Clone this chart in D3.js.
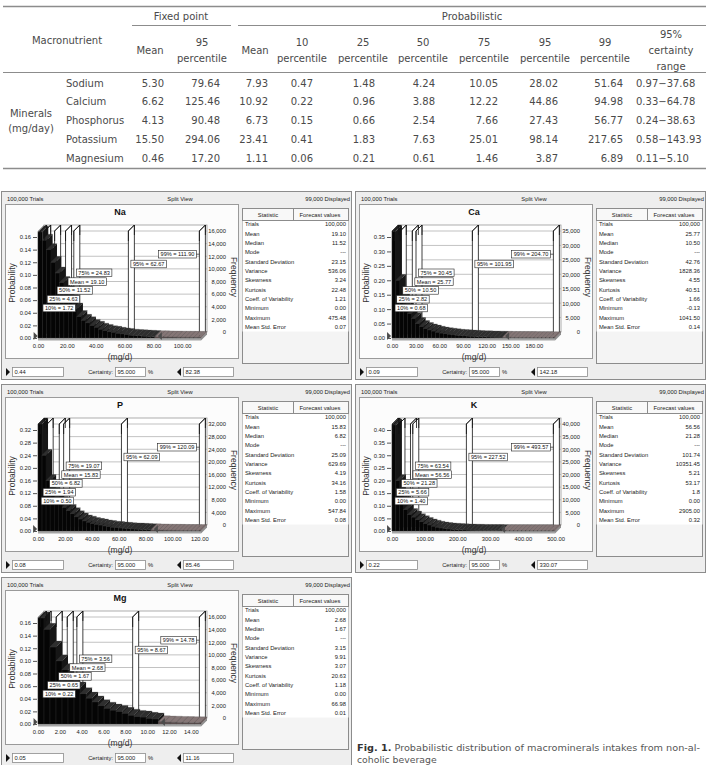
<!DOCTYPE html>
<html><head><meta charset="utf-8">
<script src="https://cdn.jsdelivr.net/npm/d3@7/dist/d3.min.js"></script>
<style>html,body{margin:0;padding:0;background:#fff;} svg{display:block;}</style>
</head><body>
<svg id="chart" width="708" height="765"></svg>
<script>
// ===== Table data =====
const nutrients = ["Sodium","Calcium","Phosphorus","Potassium","Magnesium"];
const fixedMean = [5.30,6.62,4.13,15.50,0.46];
const fixedP95  = [79.64,125.46,90.48,294.06,17.20];
const probMean  = [7.93,10.92,6.73,23.41,1.11];
const probP10   = [0.47,0.22,0.15,0.41,0.06];
const probP25   = [1.48,0.96,0.66,1.83,0.21];
const probP50   = [4.24,3.88,2.54,7.63,0.61];
const probP75   = [10.05,12.22,7.66,25.01,1.46];
const probP95   = [28.02,44.86,27.43,98.14,3.87];
const probP99   = [51.64,94.98,56.77,217.65,6.89];
const rangeLow  = [0.97,0.33,0.24,0.58,0.11];
const rangeHigh = [37.68,64.78,38.63,143.93,5.10];
const tableHeaders = [["Mean"],["95","percentile"],["Mean"],["10","percentile"],["25","percentile"],["50","percentile"],["75","percentile"],["95","percentile"],["99","percentile"],["95%","certainty","range"]];

// ===== Forecast chart data =====
const chartNames = ["Na","Ca","P","K","Mg"];
const binWidths  = [3,5,3,12,0.55];
const naProb = [0.168,0.155,0.14,0.12,0.103,0.088,0.073,0.06,0.046,0.034,0.028,0.024,0.020,0.017,0.014,0.012,0.010,0.009,0.0075,0.0065,0.0055,0.0045,0.004,0.0035,0.003,0.0027,0.0024,0.0021,0.0019,0.0017,0.0015,0.0014,0.0013,0.0012,0.0011,0.001,0.001,0.0009];
const caProb = [0.37,0.2,0.14,0.11,0.085,0.068,0.05,0.04,0.033,0.028,0.024,0.02,0.017,0.015,0.013,0.011,0.0095,0.0085,0.0075,0.0065,0.0058,0.005,0.0045,0.004,0.0036,0.0032,0.0029,0.0026,0.0023,0.002,0.0018,0.0016,0.0015,0.0014,0.0013,0.0012,0.0011,0.001,0.001,0.0009,0.0009,0.0008];
const pProb  = [0.34,0.24,0.16,0.12,0.105,0.09,0.075,0.065,0.055,0.045,0.038,0.032,0.028,0.024,0.021,0.019,0.016,0.014,0.012,0.011,0.0095,0.0085,0.0075,0.0065,0.006,0.0053,0.0047,0.0042,0.0037,0.0033,0.003,0.0027,0.0024,0.0022,0.002,0.0018,0.0016,0.0015,0.0014,0.0013,0.0012];
const kProb  = [0.42,0.2,0.12,0.085,0.065,0.055,0.045,0.037,0.03,0.024,0.019,0.015,0.012,0.0095,0.008,0.0068,0.0058,0.005,0.0043,0.0037,0.0032,0.0028,0.0024,0.0021,0.0019,0.0017,0.0015,0.0014,0.0013,0.0012,0.0011,0.001,0.001,0.0009,0.0009,0.0008,0.0008,0.0007,0.0007,0.0007,0.0006,0.0006];
const mgProb = [0.168,0.15,0.122,0.1,0.086,0.071,0.057,0.048,0.041,0.035,0.029,0.025,0.022,0.020,0.017,0.014,0.012,0.011,0.009,0.008,0.0035,0.003,0.0028,0.0025,0.0022,0.002,0.0018,0.0016];
const chartProbs = [naProb,caProb,pProb,kProb,mgProb];

const naYTicks = [0,0.02,0.04,0.06,0.08,0.10,0.12,0.14,0.16];
const caYTicks = [0,0.05,0.10,0.15,0.20,0.25,0.30,0.35];
const pYTicks  = [0,0.04,0.08,0.12,0.16,0.20,0.24,0.28,0.32];
const kYTicks  = [0,0.05,0.10,0.15,0.20,0.25,0.30,0.35,0.40];
const mgYTicks = [0,0.02,0.04,0.06,0.08,0.10,0.12,0.14,0.16];
const chartYTicks = [naYTicks,caYTicks,pYTicks,kYTicks,mgYTicks];

const naXTicks = [0,20,40,60,80,100];
const caXTicks = [0,30,60,90,120,150,180];
const pXTicks  = [0,20,40,60,80,100,120];
const kXTicks  = [0,100,200,300,400,500];
const mgXTicks = [0,2,4,6,8,10,12,14];
const chartXTicks = [naXTicks,caXTicks,pXTicks,kXTicks,mgXTicks];

const markerNames = ["10%","25%","50%","Mean","75%","95%","99%"];
const naMarkers = [1.72,4.63,11.52,19.10,24.83,62.67,111.90];
const caMarkers = [0.68,2.82,10.50,25.77,30.45,101.95,204.70];
const pMarkers  = [0.50,1.94,6.82,15.83,19.07,62.09,120.09];
const kMarkers  = [1.40,5.66,21.28,56.56,63.54,227.52,493.57];
const mgMarkers = [0.22,0.65,1.67,2.68,3.56,8.67,14.78];
const chartMarkers = [naMarkers,caMarkers,pMarkers,kMarkers,mgMarkers];

const statNames = ["Trials","Mean","Median","Mode","Standard Deviation","Variance","Skewness","Kurtosis","Coeff. of Variability","Minimum","Maximum","Mean Std. Error"];
const naStats = ["100,000","19.10","11.52","---","23.15","536.06","3.24","22.48","1.21","0.00","475.48","0.07"];
const caStats = ["100,000","25.77","10.50","---","42.76","1828.36","4.55","40.51","1.66","-0.13","1041.50","0.14"];
const pStats  = ["100,000","15.83","6.82","---","25.09","629.69","4.19","34.16","1.58","0.00","547.84","0.08"];
const kStats  = ["100,000","56.56","21.28","---","101.74","10351.45","5.21","53.17","1.8","0.00","2905.00","0.32"];
const mgStats = ["100,000","2.68","1.67","---","3.15","9.91","3.07","20.63","1.18","0.00","66.98","0.01"];
const chartStats = [naStats,caStats,pStats,kStats,mgStats];

const certLow  = ["0.44","0.09","0.08","0.22","0.05"];
const certHigh = ["82.38","142.18","85.46","330.07","11.16"];
const certaintyPct = "95.000";

// ===== Layout =====
const svg = d3.select("#chart");
const TF = "DejaVu Sans, sans-serif";
const SF = "Liberation Sans, Arial, sans-serif";
const txtCol = "#4a4a4a";

// ---- table ----
const tg = svg.append("g");
function hline(x1,x2,y,w){ tg.append("line").attr("x1",x1).attr("x2",x2).attr("y1",y).attr("y2",y).attr("stroke","#8c8c8c").attr("stroke-width",w); }
hline(3,706,6.5,1.6); hline(132,231,25.5,1); hline(238,706,25.5,1); hline(3,706,72.5,1.2); hline(3,706,168.5,1.6);
function ttext(x,yc,s,anchor){ return tg.append("text").attr("x",x).attr("y",yc+3.6).attr("text-anchor",anchor||"middle")
  .attr("font-family",TF).attr("font-size",10).attr("fill",txtCol).text(s); }
ttext(181,16,"Fixed point"); ttext(472,16,"Probabilistic"); ttext(67,40,"Macronutrient");
const colCenters = [150,202,255,302,363,423,484,545,605,671];
tableHeaders.forEach((h,j)=>{
  const ys = h.length===1?[50]:h.length===2?[42,58]:[34,50,66];
  h.forEach((s,k)=>ttext(colCenters[j],ys[k],s));
});
const rowY = [83,101,120,139,158];
const colRight = [164,220,268,313,375,435,498,558,623];
const cols = [fixedMean,fixedP95,probMean,probP10,probP25,probP50,probP75,probP95,probP99];
ttext(31,113,"Minerals"); ttext(31,128,"(mg/day)");
nutrients.forEach((n,r)=>{
  ttext(66,rowY[r],n,"start");
  cols.forEach((c,j)=>ttext(colRight[j],rowY[r],c[r].toFixed(2),"end"));
  ttext(636,rowY[r],rangeLow[r].toFixed(2)+"\u2212"+rangeHigh[r].toFixed(2),"start");
});

// ---- forecast panels ----
const panelPos = [[0,191],[354,191],[0,384],[354,384],[0,577]];
const f2 = d3.format(".2f");

function drawPanel(i){
  const [L,T] = panelPos[i];
  const g = svg.append("g").attr("transform",`translate(${L},${T})`);
  g.append("rect").attr("x",1.5).attr("y",0.5).attr("width",350).attr("height",188).attr("fill","#eeeeee").attr("stroke","#8c8c8c");
  const st = (x,y,s,anchor,size,weight,fill)=>g.append("text").attr("x",x).attr("y",y).attr("text-anchor",anchor||"start")
     .attr("font-family",SF).attr("font-size",size||5.8).attr("font-weight",weight||"normal").attr("fill",fill||"#222").text(s);
  st(7,9.5,"100,000 Trials"); st(180,9.5,"Split View","middle"); st(350,9.5,"99,000 Displayed","end");
  // chart frame
  g.append("rect").attr("x",5.5).attr("y",13.5).attr("width",233).attr("height",154).attr("fill","#fcfcfc").attr("stroke","#9a9a9a");
  st(120,24,chartNames[i],"middle",9,"bold","#111");

  const x0=38, x1=201, dx=6, dy=6, floorF=147, topF=40;
  const p99 = chartMarkers[i][6];
  const dom = p99*1.01;
  const xs = d3.scaleLinear().domain([0,dom]).range([x0,x1]);
  const yt = chartYTicks[i];
  const yMax = yt[yt.length-1]*(floorF-topF)/(floorF-46);
  const ysc = d3.scaleLinear().domain([0,yMax]).range([floorF,topF]);

  // left wall, back wall, floor
  g.append("polygon").attr("points",[[x0,floorF],[x0,topF],[x0+dx,topF-dy],[x0+dx,floorF-dy]].join(" "))
    .attr("fill","#dcdcdc").attr("stroke","#9a9a9a").attr("stroke-width",0.7);
  g.append("rect").attr("x",x0+dx).attr("y",topF-dy).attr("width",x1-x0).attr("height",floorF-topF)
    .attr("fill","#ffffff").attr("stroke","#9a9a9a").attr("stroke-width",0.8);
  yt.forEach(v=>{
    const y=ysc(v);
    g.append("line").attr("x1",x0+dx).attr("x2",x1+dx).attr("y1",y-dy).attr("y2",y-dy).attr("stroke","#a8a8a8").attr("stroke-width",0.7);
    g.append("line").attr("x1",x0).attr("x2",x0+dx).attr("y1",y).attr("y2",y-dy).attr("stroke","#a8a8a8").attr("stroke-width",0.7);
  });
  g.append("polygon").attr("points",[[x0,floorF],[x1,floorF],[x1+dx,floorF-dy],[x0+dx,floorF-dy]].join(" "))
    .attr("fill","#c8c8c8");
  g.append("rect").attr("x",x0).attr("y",floorF).attr("width",x1-x0).attr("height",2.5).attr("fill","#a4a4a4");
  g.append("polygon").attr("points",[[x1,floorF],[x1+dx,floorF-dy],[x1+dx,floorF-dy+2.5],[x1,floorF+2.5]].join(" ")).attr("fill","#8e8e8e");

  // markers (planes)
  const marks = chartMarkers[i];
  marks.forEach(m=>{
    const xm = xs(m);
    g.append("polygon").attr("points",[[xm,floorF],[xm,topF],[xm+dx,topF-dy],[xm+dx,floorF-dy]].join(" "))
      .attr("fill","#ffffff").attr("stroke","#111").attr("stroke-width",0.8);
  });

  // histogram bars (3D)
  const lo = +certLow[i], hi = +certHigh[i];
  const bw = binWidths[i];
  chartProbs[i].forEach((v,k)=>{
    const a=k*bw; if(a>=dom) return;
    const b=Math.min((k+1)*bw,dom);
    const xa=xs(a), xb=xs(b), yv=ysc(Math.min(v,yMax));
    const mid=(a+b)/2, out = mid>hi || mid<lo;
    const cf = out?"#5e4f4f":"#050505", ct = out?"#857676":"#2e2e2e", cs = out?"#6d5d5d":"#161616";
    g.append("rect").attr("x",xa).attr("y",yv).attr("width",xb-xa).attr("height",floorF-yv).attr("fill",cf).attr("stroke","#3c3c3c").attr("stroke-width",0.3);
    g.append("polygon").attr("points",[[xa,yv],[xb,yv],[xb+dx,yv-dy],[xa+dx,yv-dy]].join(" ")).attr("fill",ct).attr("stroke","#444").attr("stroke-width",0.25);
    g.append("polygon").attr("points",[[xb,yv],[xb+dx,yv-dy],[xb+dx,floorF-dy],[xb,floorF]].join(" ")).attr("fill",cs);
  });

  // marker tops drawn again above bars where visible
  marks.forEach(m=>{
    const xm = xs(m);
    g.append("path").attr("d",`M${xm},${topF+10}V${topF}L${xm+dx},${topF-dy}V${topF-dy+10}`)
      .attr("fill","none").attr("stroke","#111").attr("stroke-width",0.8);
  });

  // certainty grabbers
  const xl = xs(lo), xr = xs(hi);
  g.append("polygon").attr("points",[[xl-5,floorF-6],[xl-5,floorF+2],[xl-1,floorF-2]].join(" ")).attr("fill","#4a4a4a");
  g.append("polygon").attr("points",[[xr+5,floorF-6],[xr+5,floorF+2],[xr+1,floorF-2]].join(" ")).attr("fill","#4a4a4a");

  // marker labels
  marks.forEach((m,k)=>{
    const xm = xs(m);
    const yc = floorF-30-k*8.8 - (k===6?1:0);
    const t = g.append("text").attr("font-family",SF).attr("font-size",5.6).attr("fill","#111")
      .attr("y",yc+2).text(markerNames[k]+" = "+f2(m));
    const w = t.node().getComputedTextLength()+4;
    let bx = k===6 ? xm-3-w : xm+2.5;
    t.attr("x",bx+2);
    g.insert("rect",()=>t.node()).attr("x",bx).attr("y",yc-3.8).attr("width",w).attr("height",7.6)
      .attr("fill","#ffffff").attr("stroke","#222").attr("stroke-width",0.6);
    if(k===6) g.append("line").attr("x1",bx+w).attr("x2",xm).attr("y1",yc).attr("y2",yc).attr("stroke","#222").attr("stroke-width",0.7);
  });

  // axes
  const styleAxis = ax=>{ ax.select(".domain").remove(); ax.selectAll("text").attr("font-family",SF).attr("font-size",5.8).attr("fill","#222"); ax.selectAll("line").attr("stroke","#555"); };
  const ay = g.append("g").attr("transform",`translate(${x0-1},0)`)
    .call(d3.axisLeft(ysc).tickValues(yt).tickSize(4).tickPadding(2).tickFormat(d3.format(".2f")));
  styleAxis(ay);
  const ax = g.append("g").attr("transform",`translate(0,${floorF+2})`)
    .call(d3.axisBottom(xs).tickValues(chartXTicks[i]).tickSize(0).tickPadding(4).tickFormat(d3.format(".2f")));
  styleAxis(ax);
  const yf = d3.scaleLinear().domain([0,yMax*100000]).range([floorF-dy,topF-dy]);
  const ar = g.append("g").attr("transform",`translate(${x1+dx},0)`)
    .call(d3.axisRight(yf).tickValues(yt.map(v=>Math.round(v*100000))).tickSize(0).tickPadding(4).tickFormat(d3.format(",")));
  styleAxis(ar);
  ar.selectAll("text").attr("text-anchor","end").attr("x",19);

  g.append("text").attr("transform","translate(15,92) rotate(-90)").attr("text-anchor","middle")
    .attr("font-family",SF).attr("font-size",8.5).attr("fill","#333").text("Probability");
  g.append("text").attr("transform","translate(231,86) rotate(90)").attr("text-anchor","middle")
    .attr("font-family",SF).attr("font-size",8.5).attr("fill","#333").text("Frequency");
  g.append("text").attr("x",120).attr("y",169).attr("text-anchor","middle")
    .attr("font-family",SF).attr("font-size",8.5).attr("fill","#333").text("(mg/d)");

  // statistics table
  const sx=242.5, sw=106;
  g.append("rect").attr("x",sx).attr("y",17.5).attr("width",sw).attr("height",155).attr("fill","#f4f4f4").attr("stroke","#8c8c8c");
  g.append("rect").attr("x",sx).attr("y",29.5).attr("width",sw).attr("height",111).attr("fill","#ffffff");
  g.append("rect").attr("x",sx).attr("y",17.5).attr("width",sw).attr("height",12).attr("fill","#f8f8f8").attr("stroke","#8c8c8c");
  g.append("line").attr("x1",293.5).attr("x2",293.5).attr("y1",17.5).attr("y2",29.5).attr("stroke","#8c8c8c");
  st(268,25.8,"Statistic","middle"); st(320,25.8,"Forecast values","middle");
  statNames.forEach((s,k)=>{
    const y = 35.2+k*9.36;
    st(245,y,s); st(346,y,chartStats[i][k],"end");
  });

  // controls row
  const cy = 181;
  g.append("polygon").attr("points",[[6,cy-4],[6,cy+4],[10,cy]].join(" ")).attr("fill","#111");
  const box=(x,w,s)=>{ g.append("rect").attr("x",x+0.5).attr("y",cy-4.5).attr("width",w).attr("height",9).attr("fill","#fff").attr("stroke","#8c8c8c").attr("stroke-width",0.8); st(x+2.5,cy+2,s); };
  box(12,51,certLow[i]);
  st(113,cy+2,"Certainty:","end");
  box(115,30,certaintyPct);
  st(148,cy+2,"%");
  g.append("polygon").attr("points",[[181,cy-4],[181,cy+4],[177,cy]].join(" ")).attr("fill","#111");
  box(183,50,certHigh[i]);
}
chartNames.forEach((c,i)=>drawPanel(i));

// ---- figure caption ----
const cap = svg.append("text").attr("x",357).attr("y",751).attr("font-family",TF).attr("font-size",9.3).attr("fill","#555")
  .attr("textLength",343).attr("lengthAdjust","spacingAndGlyphs");
cap.append("tspan").attr("font-weight","bold").attr("fill","#333").text("Fig. 1.");
cap.append("tspan").text(" Probabilistic distribution of macrominerals intakes from non-al-");
svg.append("text").attr("x",357).attr("y",762.5).attr("font-family",TF).attr("font-size",9.3).attr("fill","#555").text("coholic beverage");
</script>
</body></html>
